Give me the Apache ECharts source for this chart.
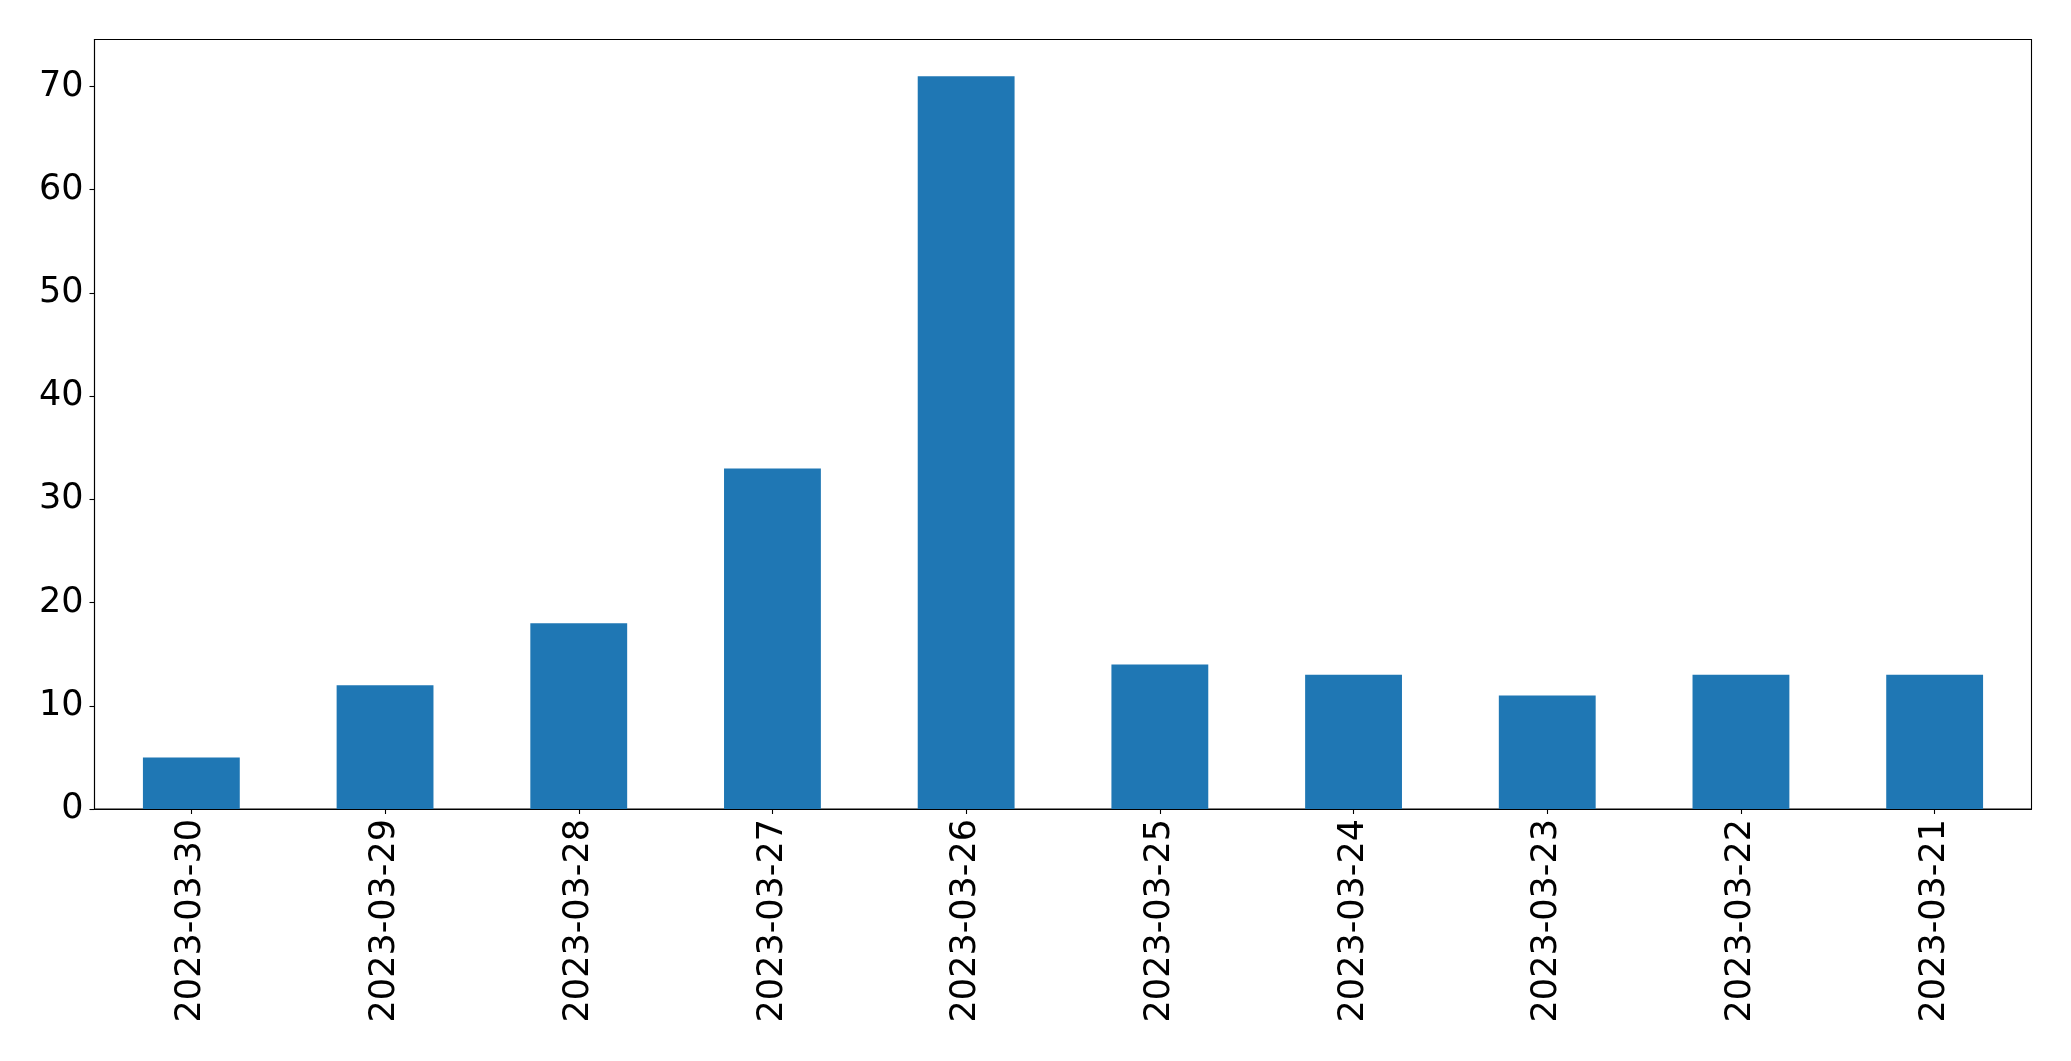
<!DOCTYPE html>
<html>
<head>
<meta charset="utf-8">
<script src="https://cdn.jsdelivr.net/npm/echarts@6/dist/echarts.min.js"></script>
<style>html,body{margin:0;padding:0;background:#fff;}#c{width:2071px;height:1061px;}</style>
</head>
<body>
<div id="c"></div>
<script>
const categories = ['2023-03-30','2023-03-29','2023-03-28','2023-03-27','2023-03-26','2023-03-25','2023-03-24','2023-03-23','2023-03-22','2023-03-21'];
const values = [5, 12, 18, 33, 71, 14, 13, 11, 13, 13];
const yTicks = [0, 10, 20, 30, 40, 50, 60, 70];

const chart = echarts.init(document.getElementById('c'));
const font = 'DejaVu Sans';
chart.setOption({
  animation: false,
  grid: {left: 94.5, right: 39.5, top: 39.5, bottom: 252, show: true, borderColor: '#000', borderWidth: 1.1, containLabel: false},
  xAxis: {
    type: 'category', data: categories, boundaryGap: true,
    axisLine: {show: true, lineStyle: {color: '#000', width: 1.1}},
    axisTick: {show: true, alignWithLabel: true, length: 5, lineStyle: {color: '#000', width: 1.1}},
    axisLabel: {rotate: 90, color: '#000', fontFamily: font, fontSize: 35, margin: 10, interval: 0},
    splitLine: {show: false}
  },
  yAxis: {
    type: 'value', min: 0, max: 74.55,
    axisLine: {show: true, lineStyle: {color: '#000', width: 1.1}},
    axisTick: {show: true, length: 5, customValues: yTicks, lineStyle: {color: '#000', width: 1.1}},
    axisLabel: {color: '#000', fontFamily: font, fontSize: 35, margin: 11, customValues: yTicks},
    splitLine: {show: false}
  },
  series: [{
    type: 'bar', data: values, barWidth: '50%',
    itemStyle: {color: '#1f77b4'}
  }]
});
</script>
</body>
</html>
